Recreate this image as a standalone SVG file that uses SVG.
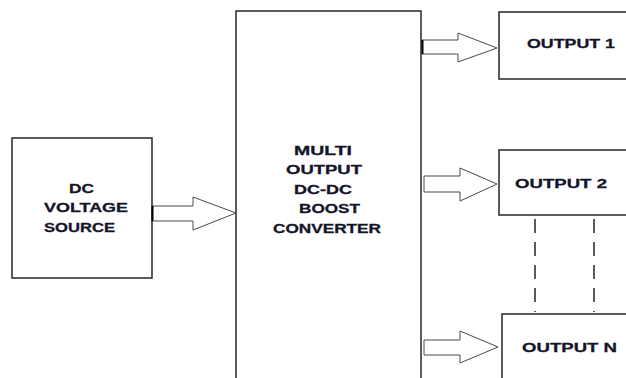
<svg xmlns="http://www.w3.org/2000/svg" width="626" height="378" viewBox="0 0 626 378">
<style>
.box{fill:#fff;stroke:#262626;stroke-width:1.5}
.arr{fill:#fff;stroke:#4a4a4a;stroke-width:1}
.dash{fill:none;stroke:#262626;stroke-width:1.5;stroke-dasharray:14 9}
.t{font-family:"Liberation Sans",Arial,sans-serif;font-weight:bold;font-size:13.5px;fill:#141428;stroke:#141428;stroke-width:0.3}
</style>
<rect width="626" height="378" fill="#fff"/>
<g id="dc-source">
<rect class="box" x="12" y="138" width="140" height="140"/>
<text class="t" x="69" y="193" textLength="25" lengthAdjust="spacingAndGlyphs">DC</text>
<text class="t" x="44" y="212" textLength="84" lengthAdjust="spacingAndGlyphs">VOLTAGE</text>
<text class="t" x="44" y="232" textLength="71" lengthAdjust="spacingAndGlyphs">SOURCE</text>
</g>
<g id="converter">
<rect class="box" x="236" y="11" width="185" height="400"/>
<text class="t" x="294" y="155" textLength="58" lengthAdjust="spacingAndGlyphs">MULTI</text>
<text class="t" x="286" y="174" textLength="76" lengthAdjust="spacingAndGlyphs">OUTPUT</text>
<text class="t" x="294" y="194" textLength="58" lengthAdjust="spacingAndGlyphs">DC-DC</text>
<text class="t" x="299" y="213" textLength="61" lengthAdjust="spacingAndGlyphs">BOOST</text>
<text class="t" x="273" y="233" textLength="108" lengthAdjust="spacingAndGlyphs">CONVERTER</text>
</g>
<g id="output1">
<rect class="box" x="499" y="12" width="200" height="67"/>
<text class="t" x="527" y="48" textLength="88" lengthAdjust="spacingAndGlyphs">OUTPUT 1</text>
</g>
<g id="output2">
<rect class="box" x="499" y="150" width="200" height="65"/>
<text class="t" x="515" y="188" textLength="92" lengthAdjust="spacingAndGlyphs">OUTPUT 2</text>
</g>
<g id="outputN">
<rect class="box" x="502" y="314" width="200" height="100"/>
<text class="t" x="522" y="352" textLength="95" lengthAdjust="spacingAndGlyphs">OUTPUT N</text>
</g>
<g id="connectors">
<polygon class="arr" points="152,206 193,206 193,197 236,213 193,230 193,221 152,221"/>
<line x1="152.5" y1="206" x2="152.5" y2="221" stroke="#000" stroke-width="2"/>
<polygon class="arr" points="422,40 458,40 458,33 497,48 458,62 458,54 422,54"/>
<line x1="422.5" y1="40" x2="422.5" y2="54" stroke="#000" stroke-width="2"/>
<polygon class="arr" points="424,176 460,176 460,168 497,184 460,201 460,192 424,192"/>
<polygon class="arr" points="424,340 460,340 460,331 498,347 460,363 460,355 424,355"/>
<line class="dash" x1="535" y1="219" x2="535" y2="312"/>
<line class="dash" x1="594" y1="219" x2="594" y2="312"/>
</g>
</svg>
